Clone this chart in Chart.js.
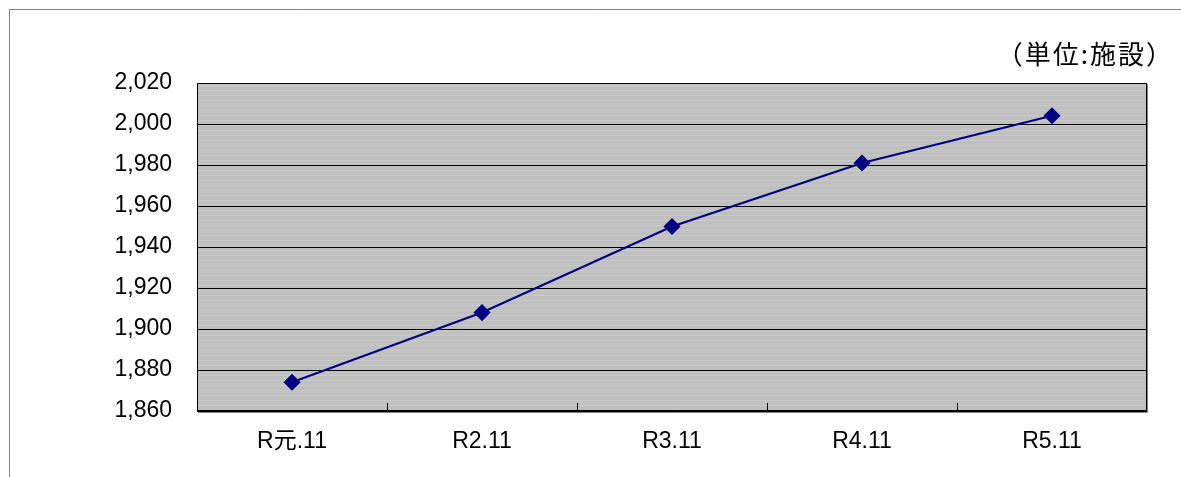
<!DOCTYPE html>
<html>
<head>
<meta charset="utf-8">
<script src="https://cdn.jsdelivr.net/npm/chart.js@4"></script>
<style>
  html, body { margin: 0; padding: 0; background: #fff; }
  #wrap { width: 1181px; height: 477px; position: relative; }
</style>
</head>
<body>
<div id="wrap"><canvas id="chart" width="1181" height="477"></canvas></div>
<script>
// data
const labels = ["R元.11", "R2.11", "R3.11", "R4.11", "R5.11"];
const facilities = [1874, 1908, 1950, 1981, 2004];
const yMin = 1860;
const yMax = 2020;
const yStep = 20;
const unitLabel = "（単位:施設）";

const FONT = '"Liberation Sans", Arial, "Noto Sans CJK JP", sans-serif';

// striped gray plot background, like the old Excel fill
function makeStripes(ctx) {
  const c = document.createElement("canvas");
  c.width = 8; c.height = 5;
  const g = c.getContext("2d");
  g.fillStyle = "#c0c0c0";
  g.fillRect(0, 0, 8, 5);
  g.fillStyle = "#c9c9c9";
  g.fillRect(0, 0, 8, 1);
  return ctx.createPattern(c, "repeat");
}

const plotDeco = {
  id: "plotDeco",
  beforeDraw(chart) {
    const { ctx, chartArea: a } = chart;
    ctx.save();
    ctx.fillStyle = makeStripes(ctx);
    ctx.fillRect(a.left, a.top, a.right - a.left, a.bottom - a.top);
    ctx.restore();
  },
  afterDraw(chart) {
    const { ctx, chartArea: a } = chart;
    const x = chart.scales.x;
    ctx.save();
    // outer frame (left and top visible)
    ctx.strokeStyle = "#7f7f7f";
    ctx.lineWidth = 1;
    ctx.beginPath();
    ctx.moveTo(9.5, chart.height);
    ctx.lineTo(9.5, 9.5);
    ctx.lineTo(chart.width, 9.5);
    ctx.stroke();
    // plot border
    ctx.strokeStyle = "#000";
    ctx.strokeRect(a.left + 0.5, a.top + 0.5, a.right - a.left - 1, a.bottom - a.top - 1);
    ctx.strokeStyle = "#808080";
    ctx.beginPath();
    ctx.moveTo(a.right + 0.5, a.top + 1);
    ctx.lineTo(a.right + 0.5, a.bottom + 1.5);
    ctx.lineTo(a.left + 1, a.bottom + 1.5);
    ctx.stroke();
    // category boundary ticks on the bottom axis, pointing in
    ctx.strokeStyle = "#000";
    ctx.beginPath();
    for (let i = 1; i < labels.length; i++) {
      const px = Math.round((x.getPixelForValue(i - 1) + x.getPixelForValue(i)) / 2) + 0.5;
      ctx.moveTo(px, a.bottom);
      ctx.lineTo(px, a.bottom - 8);
    }
    ctx.stroke();
    // unit label
    ctx.fillStyle = "#000";
    ctx.letterSpacing = "2px";
    ctx.font = '26px "Noto Sans CJK JP", sans-serif';
    ctx.textAlign = "right";
    ctx.textBaseline = "middle";
    ctx.fillText(unitLabel, 1174, 54);
    ctx.restore();
  }
};

new Chart(document.getElementById("chart").getContext("2d"), {
  type: "line",
  data: {
    labels: labels,
    datasets: [{
      label: "施設数",
      data: facilities,
      borderColor: "#000080",
      backgroundColor: "#000080",
      borderWidth: 2.2,
      pointStyle: "rectRot",
      pointRadius: 7,
      pointHoverRadius: 7,
      tension: 0
    }]
  },
  options: {
    responsive: false,
    animation: false,
    layout: { padding: { top: 83, right: 34, left: 0, bottom: 0 } },
    plugins: {
      legend: { display: false },
      tooltip: { enabled: false }
    },
    scales: {
      x: {
        offset: true,
        grid: { display: false, drawTicks: false },
        border: { display: false },
        ticks: { color: "#000", font: { family: FONT, size: 23 }, padding: 17 },
        afterFit(s) { s.height = 66; }
      },
      y: {
        min: yMin,
        max: yMax,
        grid: { color: "#000", lineWidth: 1, drawTicks: false },
        border: { display: false },
        ticks: {
          stepSize: yStep,
          color: "#000",
          font: { family: FONT, size: 23 },
          padding: 25,
          callback: v => v.toLocaleString("en-US")
        },
        afterFit(s) { s.width = 197; }
      }
    }
  },
  plugins: [plotDeco]
});
</script>
</body>
</html>
